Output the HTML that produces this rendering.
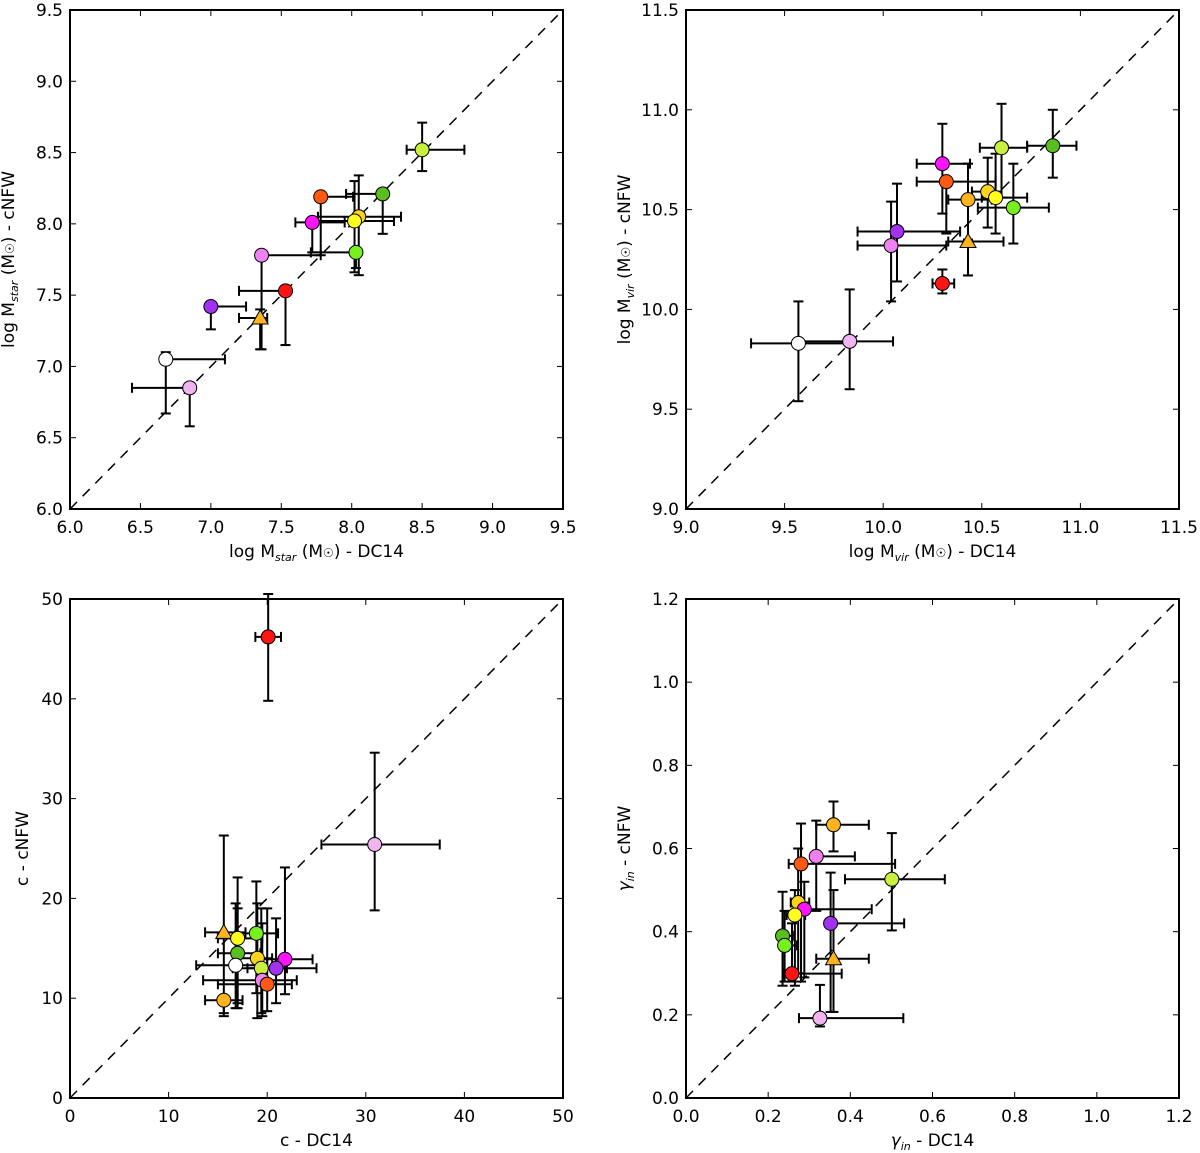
<!DOCTYPE html>
<html><head><meta charset="utf-8"><style>
html,body{margin:0;padding:0;background:#fff;}
svg{display:block;font-family:"DejaVu Sans","Liberation Sans",sans-serif;}
</style></head><body>
<svg id="fig" width="1200" height="1153" viewBox="0 0 1200 1153" xmlns="http://www.w3.org/2000/svg"></svg>
<script>
// ---- Panel 1: log Mstar ----
const p1x=[8.50,7.78,8.22,7.72,8.05,8.02,8.03,7.36,7.53,7.00,7.35,6.68,6.85];
const p1y=[8.52,8.19,8.21,8.01,8.05,8.02,7.80,7.78,7.53,7.42,7.34,7.05,6.85];
const p1xlo=[8.39,7.78,7.96,7.60,7.76,7.75,7.71,7.36,7.20,7.00,7.20,6.68,6.44];
const p1xhi=[8.80,8.01,8.22,7.95,8.35,8.30,8.03,7.78,7.53,7.25,7.40,7.10,6.85];
const p1ylo=[8.37,7.78,7.93,7.80,7.64,7.66,7.69,7.12,7.15,7.26,7.12,6.67,6.58];
const p1yhi=[8.71,8.19,8.21,8.01,8.34,8.30,7.80,7.78,7.53,7.42,7.40,7.10,6.85];
const p1c=["#c8f03c","#ff5a14","#5abe1e","#ff14ff","#ffd21e","#ffff1e","#78f01e","#ee82ee","#ff1414","#a032f0","#ffb41e","#ffffff","#f0b4f0"];
const p1m=["o","o","o","o","o","o","o","o","o","o","^","o","o"];
const p1ticks=["6.0","6.5","7.0","7.5","8.0","8.5","9.0","9.5"];
// ---- Panel 2: log Mvir ----
const p2x=[10.60,10.86,10.30,10.32,10.43,10.53,10.57,10.66,10.07,10.04,10.43,10.30,9.57,9.83];
const p2y=[10.81,10.82,10.73,10.64,10.55,10.59,10.56,10.51,10.39,10.32,10.34,10.13,9.83,9.84];
const p2xlo=[10.49,10.73,10.17,10.17,10.33,10.45,10.50,10.48,9.87,9.87,10.33,10.25,9.33,9.57];
const p2xhi=[10.73,10.98,10.44,10.57,10.55,10.60,10.73,10.84,10.39,10.32,10.61,10.36,9.83,10.05];
const p2ylo=[10.56,10.66,10.48,10.38,10.35,10.41,10.38,10.33,10.14,10.04,10.17,10.08,9.54,9.60];
const p2yhi=[11.03,11.00,10.93,10.64,10.73,10.76,10.78,10.73,10.63,10.54,10.34,10.20,10.04,10.10];
const p2c=["#c8f03c","#5abe1e","#ff14ff","#ff5a14","#ffb41e","#ffd21e","#ffff1e","#78f01e","#a032f0","#ee82ee","#ffb41e","#ff1414","#ffffff","#f0b4f0"];
const p2m=["o","o","o","o","o","o","o","o","o","o","^","o","o","o"];
const p2ticks=["9.0","9.5","10.0","10.5","11.0","11.5"];
// ---- Panel 3: concentration ----
const p3x=[30.9,20.1,15.6,17.0,18.9,17.0,19.0,21.8,16.8,19.4,20.9,19.5,20.0,15.6];
const p3y=[25.4,46.2,16.6,16.0,16.5,14.5,14.0,13.9,13.3,13.0,13.0,11.8,11.4,9.8];
const p3xlo=[25.5,18.8,13.7,15.0,17.0,15.0,16.8,19.5,12.8,16.5,18.0,13.5,15.0,13.7];
const p3xhi=[37.5,21.4,17.8,19.5,21.1,19.3,20.5,24.6,20.0,22.0,25.0,23.0,22.5,17.5];
const p3ylo=[18.8,39.8,8.5,9.5,10.5,9.0,8.0,10.4,9.0,8.5,9.5,8.2,8.7,8.2];
const p3yhi=[34.6,50.5,26.3,22.1,21.7,19.0,19.5,23.1,19.5,19.0,18.0,17.5,19.0,9.8];
const p3c=["#f0b4f0","#ff1414","#ffb41e","#ffff1e","#78f01e","#5abe1e","#ffd21e","#ff14ff","#ffffff","#c8f03c","#a032f0","#ee82ee","#ff5a14","#ffb41e"];
const p3m=["o","o","^","o","o","o","o","o","o","o","o","o","o","o"];
const p3ticks=["0","10","20","30","40","50"];
// ---- Panel 4: gamma_in ----
const p4x=[0.359,0.317,0.280,0.501,0.273,0.288,0.265,0.352,0.235,0.240,0.359,0.258,0.326];
const p4y=[0.657,0.581,0.563,0.526,0.470,0.454,0.440,0.420,0.390,0.367,0.335,0.299,0.192];
const p4xlo=[0.317,0.317,0.250,0.387,0.255,0.270,0.245,0.352,0.235,0.240,0.317,0.240,0.275];
const p4xhi=[0.445,0.411,0.509,0.630,0.300,0.452,0.290,0.531,0.260,0.270,0.445,0.379,0.529];
const p4ylo=[0.593,0.450,0.280,0.403,0.300,0.290,0.270,0.207,0.270,0.280,0.207,0.280,0.172];
const p4yhi=[0.713,0.667,0.660,0.637,0.600,0.520,0.500,0.542,0.496,0.450,0.500,0.420,0.272];
const p4c=["#ffb41e","#ee82ee","#ff5a14","#c8f03c","#ffd21e","#ff14ff","#ffff1e","#a032f0","#5abe1e","#78f01e","#ffb41e","#ff1414","#f0b4f0"];
const p4m=["o","o","o","o","o","o","o","o","o","o","^","o","o"];
const p4ticks=["0.0","0.2","0.4","0.6","0.8","1.0","1.2"];

const NS="http://www.w3.org/2000/svg";
const svg=document.getElementById('fig');
function mk(tag,attrs,parent){const e=document.createElementNS(NS,tag);for(const k in attrs)e.setAttribute(k,attrs[k]);(parent||svg).appendChild(e);return e;}

function panel(id,box,min,max,ticks,xs,ys,xlo,xhi,ylo,yhi,cols,marks,xlabel,ylabel){
  const g=mk('g',{});
  
  
  const [L,T,R,B]=box;
  const sx=v=>L+(v-min)/(max-min)*(R-L);
  const sy=v=>B-(v-min)/(max-min)*(B-T);
  const d=mk('line',{x1:sx(min),y1:sy(min),x2:sx(max),y2:sy(max),stroke:'#000','stroke-width':1.5,'stroke-dasharray':'10,8'},g);
  
  
  for(let i=0;i<xs.length;i++){
    const eb=mk('g',{stroke:'#000','stroke-width':2},g);
    
    
    const x=sx(xs[i]),y=sy(ys[i]);
    const a=sx(xlo[i]),b=sx(xhi[i]),c=sy(ylo[i]),e=sy(yhi[i]);
    mk('line',{x1:a,y1:y,x2:b,y2:y},eb);
    mk('line',{x1:x,y1:c,x2:x,y2:e},eb);
    if(xlo[i]<xs[i])mk('line',{x1:a,y1:y-5,x2:a,y2:y+5},eb);
    if(xhi[i]>xs[i])mk('line',{x1:b,y1:y-5,x2:b,y2:y+5},eb);
    if(ylo[i]<ys[i])mk('line',{x1:x-5,y1:c,x2:x+5,y2:c},eb);
    if(yhi[i]>ys[i])mk('line',{x1:x-5,y1:e,x2:x+5,y2:e},eb);
  }
  for(let i=0;i<xs.length;i++){
    const x=sx(xs[i]),y=sy(ys[i]);
    let m;
    if(marks[i]==='^') m=mk('polygon',{points:`${x},${y-8} ${x-8},${y+6} ${x+8},${y+6}`,fill:cols[i],stroke:'#000','stroke-width':1},g);
    else m=mk('circle',{cx:x,cy:y,r:7,fill:cols[i],stroke:'#000','stroke-width':1},g);
    
    
  }
  const f=mk('rect',{x:L,y:T,width:R-L,height:B-T,fill:'none',stroke:'#000','stroke-width':2},g);
  
  
  const n=ticks.length;
  for(let k=0;k<n;k++){
    const v=min+(max-min)*k/(n-1);
    const x=sx(v),y=sy(v);
    mk('line',{x1:x,y1:B,x2:x,y2:B-6,stroke:'#000','stroke-width':1},g);
    mk('line',{x1:x,y1:T,x2:x,y2:T+6,stroke:'#000','stroke-width':1},g);
    mk('line',{x1:L,y1:y,x2:L+6,y2:y,stroke:'#000','stroke-width':1},g);
    mk('line',{x1:R,y1:y,x2:R-6,y2:y,stroke:'#000','stroke-width':1},g);
    const tx=mk('text',{x:x,y:B+24,'font-size':17,'text-anchor':'middle'},g);
    tx.textContent=ticks[k];
    
    
    const ty=mk('text',{x:L-7,y:y+6,'font-size':17,'text-anchor':'end'},g);
    ty.textContent=ticks[k];
    
    
  }
  const xl=mk('text',{x:(L+R)/2,y:B+48,'font-size':17,'text-anchor':'middle'},g);
  xl.innerHTML=xlabel;
  
  
  const yx=L-(max>=10&&ticks[0].length<3?42:56), yc=(T+B)/2;
  const yl=mk('text',{x:yx,y:yc,'font-size':17,'text-anchor':'middle',transform:`rotate(-90 ${yx} ${yc})`},g);
  yl.innerHTML=ylabel;
  
  
}
const sub=t=>`<tspan font-size="11" font-style="italic" dy="4">${t}</tspan><tspan dy="-4"> </tspan>`;
panel('panel-mstar',[70,10,563,509],6.0,9.5,p1ticks,p1x,p1y,p1xlo,p1xhi,p1ylo,p1yhi,p1c,p1m,
  'log M'+sub('star')+'(M<tspan font-size="12">☉</tspan>) - DC14','log M'+sub('star')+'(M<tspan font-size="12">☉</tspan>) - cNFW');
panel('panel-mvir',[686,10,1179,509],9.0,11.5,p2ticks,p2x,p2y,p2xlo,p2xhi,p2ylo,p2yhi,p2c,p2m,
  'log M'+sub('vir')+'(M<tspan font-size="12">☉</tspan>) - DC14','log M'+sub('vir')+'(M<tspan font-size="12">☉</tspan>) - cNFW');
panel('panel-concentration',[70,599,563,1098],0,50,p3ticks,p3x,p3y,p3xlo,p3xhi,p3ylo,p3yhi,p3c,p3m,
  'c - DC14','c - cNFW');
panel('panel-gamma',[686,599,1179,1098],0,1.2,p4ticks,p4x,p4y,p4xlo,p4xhi,p4ylo,p4yhi,p4c,p4m,
  '<tspan font-style="italic">γ</tspan>'+sub('in')+'- DC14','<tspan font-style="italic">γ</tspan>'+sub('in')+'- cNFW');
</script>
</body></html>
